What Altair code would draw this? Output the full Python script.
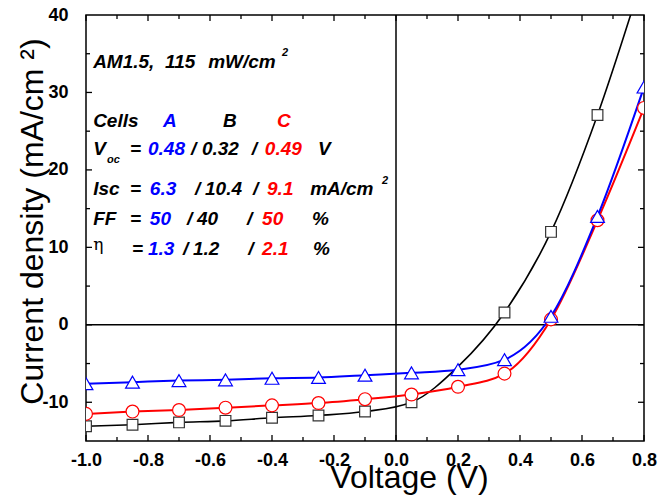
import altair as alt
import pandas as pd

# ---- data ----
voltage = [-1.0, -0.85, -0.7, -0.55, -0.4, -0.25, -0.1, 0.05, 0.2, 0.35, 0.5, 0.65, 0.8]
cell_a = [-7.6, -7.4, -7.2, -7.1, -6.9, -6.8, -6.5, -6.2, -5.8, -4.5, 1.1, 14.0, 30.7]
cell_b = [-13.1, -12.9, -12.6, -12.4, -12.0, -11.7, -11.2, -10.0, -5.4, 1.6, 12.0, 27.1, 45.5]
cell_c = [-11.5, -11.2, -11.0, -10.7, -10.4, -10.1, -9.6, -9.0, -8.0, -6.3, 0.7, 13.5, 28.0]
# voltages at which cell B's square markers are visible (the 0.2 V one is hidden under a triangle)
b_marker_voltage = [-1.0, -0.85, -0.7, -0.55, -0.4, -0.25, -0.1, 0.05, 0.35, 0.5, 0.65, 0.8]
b_marker_current = [-13.1, -12.9, -12.6, -12.4, -12.0, -11.7, -11.2, -10.0, 1.6, 12.0, 27.1, 45.5]

x_labels = [-1.0, -0.8, -0.6, -0.4, -0.2, 0.0, 0.2, 0.4, 0.6, 0.8]
x_minor = [-0.9, -0.7, -0.5, -0.3, -0.1, 0.1, 0.3, 0.5, 0.7]
y_labels = [-10, 0, 10, 20, 30, 40]
y_major = [-10, 0, 10, 20, 30]
y_minor = [-5, 5, 15, 25, 35]

# annotation tokens: text, voltage, current, cell
ann_text = ["AM1.5,", "115", "mW/cm",
            "Cells", "A", "B", "C",
            "V", "=", "0.48", "/", "0.32", "/", "0.49", "V",
            "Isc", "=", "6.3", "/", "10.4", "/", "9.1", "mA/cm",
            "FF", "=", "50", "/", "40", "/", "50", "%",
            "=", "1.3", "/", "1.2", "/", "2.1", "%"]
ann_x = [-0.977, -0.745, -0.606,
         -0.977, -0.752, -0.558, -0.384,
         -0.977, -0.858, -0.800, -0.661, -0.626, -0.465, -0.423, -0.252,
         -0.977, -0.858, -0.794, -0.648, -0.616, -0.461, -0.416, -0.277,
         -0.977, -0.858, -0.794, -0.674, -0.642, -0.481, -0.432, -0.271,
         -0.852, -0.800, -0.687, -0.655, -0.477, -0.432, -0.268]
ann_y = [33.16] * 3 + [25.55] * 4 + [21.94] * 8 + [16.77] * 8 + [12.90] * 8 + [9.03] * 7
ann_cell = ["-", "-", "-",
            "-", "A", "B", "C",
            "-", "-", "A", "-", "B", "-", "C", "-",
            "-", "-", "A", "-", "B", "-", "C", "-",
            "-", "-", "A", "-", "B", "-", "C", "-",
            "-", "A", "-", "B", "-", "C", "-"]

small_text = ["2", "oc", "2"]
small_x = [-0.368, -0.932, -0.045]
small_y = [34.71, 20.90, 18.19]

eta_text = ["η"]
eta_x = [-0.977]
eta_y = [9.6]

W, H = 558, 426

xscale = alt.Scale(domain=[-1.0, 0.8], nice=False, zero=False)
yscale = alt.Scale(domain=[-15, 40], nice=False, zero=False)

xaxis = alt.Axis(values=x_labels, format=".1f",
                 labelExpr="replace(datum.label, '\u2212', '-')",
                 labelFont="Liberation Sans", labelFontSize=18, labelFontWeight="bold",
                 labelColor="black", labelPadding=10, labelFlush=False, labelOverlap=False,
                 title="Voltage (V)", titleFont="Liberation Sans", titleFontSize=32,
                 titleFontWeight="normal", titleColor="black",
                 titleX=323, titleY=46, titleAlign="center", titleBaseline="alphabetic")
yaxis = alt.Axis(values=y_labels, format="d",
                 labelExpr="replace(datum.label, '\u2212', '-')",
                 labelFont="Liberation Sans", labelFontSize=18, labelFontWeight="bold",
                 labelColor="black", labelPadding=18, labelFlush=False, labelOverlap=False,
                 title="Current density (mA/cm ²)", titleFont="Liberation Sans", titleFontSize=32,
                 titleFontWeight="normal", titleColor="black",
                 titleX=-44, titleY=206, titleAlign="center", titleBaseline="alphabetic")

X = alt.X("x:Q", scale=xscale, axis=xaxis)
Y = alt.Y("y:Q", scale=yscale, axis=yaxis)

colors = {"A": "#0000ff", "B": "#000000", "C": "#ff0000"}
shapes = {"A": "triangle-up", "B": "square", "C": "circle"}
sizes = {"A": 190, "B": 115, "C": 165}
widths = {"A": 2.0, "B": 1.6, "C": 2.0}
series = {"A": cell_a, "B": cell_b, "C": cell_c}
markers = {"A": (voltage, cell_a), "B": (b_marker_voltage, b_marker_current), "C": (voltage, cell_c)}

layers = []
# zero lines
layers.append(alt.Chart(pd.DataFrame({"y": [0.0]})).mark_rule(color="black", strokeWidth=1.5).encode(y=Y))
layers.append(alt.Chart(pd.DataFrame({"x": [0.0]})).mark_rule(color="black", strokeWidth=1.5).encode(x=X))

# inward ticks
xt_major = pd.DataFrame({"x": x_labels})
xt_minor = pd.DataFrame({"x": x_minor})
yt_major = pd.DataFrame({"y": y_major})
yt_minor = pd.DataFrame({"y": y_minor})
for df, ln in [(xt_major, 6), (xt_minor, 4)]:
    layers.append(alt.Chart(df).mark_rule(color="black", strokeWidth=1.3).encode(
        x=X, y=alt.value(H), y2=alt.value(H - ln)))
    layers.append(alt.Chart(df).mark_rule(color="black", strokeWidth=1.3).encode(
        x=X, y=alt.value(0), y2=alt.value(ln)))
for df, ln in [(yt_major, 6), (yt_minor, 4)]:
    layers.append(alt.Chart(df).mark_rule(color="black", strokeWidth=1.3).encode(
        y=Y, x=alt.value(0), x2=alt.value(ln)))
    layers.append(alt.Chart(df).mark_rule(color="black", strokeWidth=1.3).encode(
        y=Y, x=alt.value(W), x2=alt.value(W - ln)))

order = ["B", "C", "A"]
for k in order:
    df = pd.DataFrame({"x": voltage, "y": series[k]})
    layers.append(alt.Chart(df).mark_line(color=colors[k], strokeWidth=widths[k],
                                          interpolate="monotone", clip=True).encode(x=X, y=Y))
for k in order:
    mv, mc = markers[k]
    df = pd.DataFrame({"x": mv, "y": mc})
    layers.append(alt.Chart(df).mark_point(shape=shapes[k], size=sizes[k], filled=True,
                                           fill="white", stroke=colors[k] if k != "B" else "#333333",
                                           strokeWidth=1.2, opacity=1, clip=True).encode(x=X, y=Y))

cell_color = alt.Color("cell:N", scale=alt.Scale(domain=["-", "A", "B", "C"],
                                                 range=["#000000", "#0000ff", "#000000", "#ff0000"]),
                       legend=None)

ann = pd.DataFrame({"t": ann_text, "x": ann_x, "y": ann_y, "cell": ann_cell})
layers.append(alt.Chart(ann).mark_text(align="left", baseline="alphabetic", font="Liberation Sans",
                                       fontSize=19, fontWeight="bold", fontStyle="italic").encode(
    x=X, y=Y, text="t:N", color=cell_color))

small = pd.DataFrame({"t": small_text, "x": small_x, "y": small_y})
layers.append(alt.Chart(small).mark_text(align="left", baseline="alphabetic", font="Liberation Sans",
                                         fontSize=11, fontWeight="bold", fontStyle="italic",
                                         color="black").encode(x=X, y=Y, text="t:N"))

eta = pd.DataFrame({"t": eta_text, "x": eta_x, "y": eta_y})
layers.append(alt.Chart(eta).mark_text(align="left", baseline="alphabetic", font="DejaVu Serif",
                                       fontSize=17, color="black").encode(x=X, y=Y, text="t:N"))

chart = alt.layer(*layers).properties(
    width=W, height=H,
    autosize=alt.AutoSizeParams(type="none"),
    padding={"left": 78, "top": 7, "right": 15, "bottom": 60},
    background="white",
).configure_view(stroke="black", strokeWidth=1.5).configure_axis(
    grid=False, domain=False, ticks=False)

chart.save("out.html", embed_options={"renderer": "svg", "actions": False})
